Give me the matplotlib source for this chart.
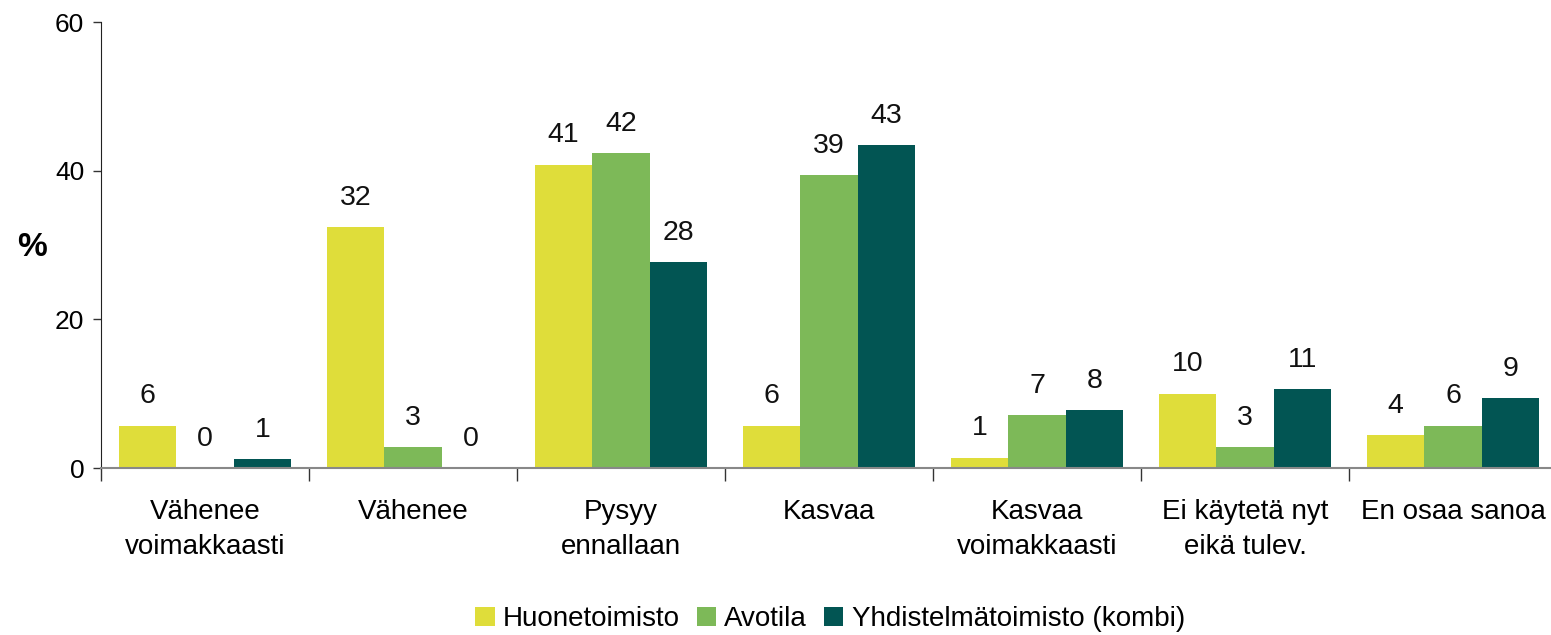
import matplotlib
matplotlib.use("Agg")
import matplotlib.pyplot as plt
import numpy as np

plt.rcParams['font.family'] = ['Liberation Sans', 'DejaVu Sans']

categories = ["Vähenee\nvoimakkaasti", "Vähenee", "Pysyy\nennallaan", "Kasvaa",
              "Kasvaa\nvoimakkaasti", "Ei käytetä nyt\neikä tulev.", "En osaa sanoa"]
series_names = ["Huonetoimisto", "Avotila", "Yhdistelmätoimisto (kombi)"]
huone = [5.7, 32.4, 40.8, 5.7, 1.4, 10.0, 4.4]
avotila = [0.0, 2.8, 42.4, 39.4, 7.1, 2.8, 5.7]
kombi = [1.2, 0.0, 27.7, 43.4, 7.8, 10.6, 9.4]
colors = ["#dfdd3a", "#7db958", "#025553"]
yticks = [0, 20, 40, 60]

W, H = 1551, 635
fig = plt.figure(figsize=(W / 100, H / 100), dpi=100)
ax = fig.add_axes([101 / W, 1 - 468 / H, (1557 - 101) / W, (468 - 22) / H])

x = np.arange(len(categories))
bw = 0.83 / 3
for i, (vals, name, c) in enumerate(zip([huone, avotila, kombi], series_names, colors)):
    pos = x + (i - 1) * bw
    ax.bar(pos, vals, width=bw, color=c, label=name, zorder=2)
    for p, v in zip(pos, vals):
        ax.annotate(f"{v:.0f}", xy=(p, v), xytext=(0, 16), textcoords="offset points",
                    ha="center", va="baseline", fontsize=20.5, color="#111111")

ax.set_xlim(-0.5, len(categories) - 0.5)
ax.set_ylim(0, 60)
ax.set_yticks(yticks)
ax.set_yticklabels([str(t) for t in yticks], fontsize=19)
ax.tick_params(axis='y', length=6, width=1, pad=6, color="#333333")

ax.set_xticks(x)
ax.set_xticklabels(categories, fontsize=20, linespacing=1.45)
ax.tick_params(axis='x', which='major', length=0, pad=22)
ax.set_xticks(np.arange(len(categories) + 1) - 0.5, minor=True)
ax.tick_params(axis='x', which='minor', length=9, width=1, color="#333333")

for s in ["top", "right"]:
    ax.spines[s].set_visible(False)
ax.spines["left"].set_color("#222222")
ax.spines["bottom"].set_color("#888888")
ax.spines["bottom"].set_linewidth(1.5)

fig.text(32 / W, 1 - 247 / H, "%", fontsize=24, fontweight="bold", ha="center", va="center")

fig.legend(loc="center", bbox_to_anchor=(830 / W, 1 - 619 / H), ncol=3, frameon=False,
           fontsize=20, handlelength=0.7, handleheight=0.7, handletextpad=0.3,
           columnspacing=0.6)

fig.savefig("out.png", dpi=100)
